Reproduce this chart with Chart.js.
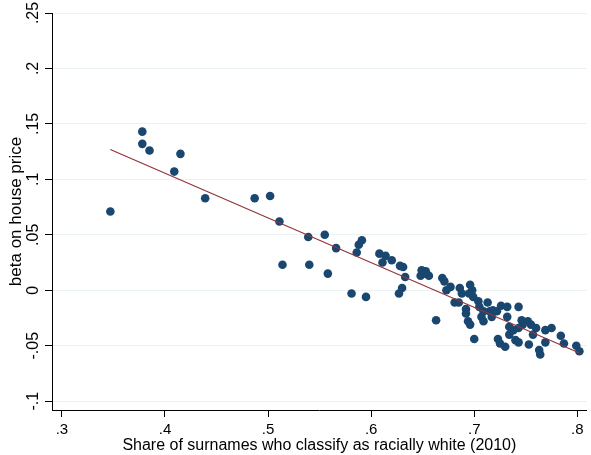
<!DOCTYPE html>
<html>
<head>
<meta charset="utf-8">
<script src="https://cdn.jsdelivr.net/npm/chart.js@4"></script>
<style>
  html, body { margin: 0; padding: 0; background: #fff; overflow: hidden; }
  #wrap { width: 591px; height: 455px; }
</style>
</head>
<body>
<div id="wrap"><canvas id="scatter-chart" width="591" height="455"></canvas></div>
<script>
const scatterCanvas = document.querySelector("#scatter-chart");

// DATA ------------------------------------------------

// share of surnames classified as racially white (2010)
const shareWhite = [
  0.347, 0.378, 0.378, 0.385, 0.415, 0.409, 0.439, 0.487, 0.502, 0.511,
  0.514, 0.539, 0.540, 0.555, 0.558, 0.566, 0.581, 0.595, 0.586, 0.588,
  0.591, 0.608, 0.614, 0.611, 0.620, 0.628, 0.631, 0.633, 0.630, 0.627,
  0.649, 0.653, 0.656, 0.648, 0.651, 0.663, 0.669, 0.671, 0.673, 0.677,
  0.681, 0.685, 0.686, 0.688, 0.696, 0.698, 0.695, 0.699, 0.692, 0.692,
  0.694, 0.696, 0.700, 0.704, 0.705, 0.707, 0.709, 0.713, 0.715, 0.717,
  0.722, 0.726, 0.732, 0.732, 0.734, 0.723, 0.725, 0.730, 0.734, 0.740,
  0.743, 0.746, 0.747, 0.743, 0.752, 0.755, 0.760, 0.757, 0.753, 0.763,
  0.764, 0.769, 0.775, 0.769, 0.784, 0.787, 0.799, 0.802, 0.738, 0.743,
  0.709, 0.718,
];

// beta on house price
const betaHouse = [
  0.071, 0.143, 0.132, 0.126, 0.123, 0.107, 0.083, 0.083, 0.085, 0.062,
  0.023, 0.048, 0.023, 0.050, 0.015, 0.038, -0.003, -0.006, 0.034, 0.041,
  0.045, 0.033, 0.031, 0.025, 0.027, 0.022, 0.021, 0.012, 0.002, -0.003,
  0.018, 0.017, 0.013, 0.013, 0.015, -0.027, 0.011, 0.008, 0.000, 0.003,
  -0.011, -0.011, 0.002, -0.003, 0.005, 0.000, -0.003, -0.006, -0.017, -0.021,
  -0.028, -0.031, -0.044, -0.010, -0.015, -0.024, -0.028, -0.011, -0.019, -0.024,
  -0.019, -0.014, -0.015, -0.024, -0.033, -0.044, -0.048, -0.051, -0.040, -0.045,
  -0.015, -0.027, -0.031, -0.034, -0.028, -0.031, -0.034, -0.040, -0.049, -0.054,
  -0.058, -0.036, -0.034, -0.047, -0.041, -0.048, -0.050, -0.055, -0.036, -0.047,
  -0.019, -0.018,
];

const xTicks = [0.3, 0.4, 0.5, 0.6, 0.7, 0.8];
const yTicks = [-0.1, -0.05, 0, 0.05, 0.1, 0.15, 0.2, 0.25];

// LINEAR FIT ------------------------------------------

let n = shareWhite.length;
let mx = shareWhite.reduce((a, b) => a + b, 0) / n;
let my = betaHouse.reduce((a, b) => a + b, 0) / n;
let sxy = 0;
let sxx = 0;
for (let i = 0; i < n; i++) {
  sxy += (shareWhite[i] - mx) * (betaHouse[i] - my);
  sxx += (shareWhite[i] - mx) * (shareWhite[i] - mx);
}
let slope = sxy / sxx;
let intercept = my - slope * mx;
let xMin = Math.min(...shareWhite);
let xMax = Math.max(...shareWhite);

// CHART -----------------------------------------------

// ".3", "-.05", "0" the way stata prints them
function stataLabel(v) {
  let s = String(Number(v.toFixed(2)));
  return s.replace(/^(-?)0\./, "$1.");
}

let scatterData = {
  datasets: [
    {
      type: "scatter",
      data: shareWhite.map((x, i) => ({ x: x, y: betaHouse[i] })),
      backgroundColor: "#1a476f",
      borderWidth: 0,
      pointRadius: 4.3,
      order: 2,
    },
    {
      type: "line",
      data: [
        { x: xMin, y: intercept + slope * xMin },
        { x: xMax, y: intercept + slope * xMax },
      ],
      borderColor: "#90353b",
      borderWidth: 1.2,
      pointRadius: 0,
      fill: false,
      order: 1,
    },
  ],
};

let scatterOptions = {
  responsive: false,
  animation: false,
  layout: {
    padding: { top: 13, right: 0, left: 0, bottom: 0 },
  },
  scales: {
    x: {
      type: "linear",
      min: 0.2904,
      max: 0.8091,
      afterBuildTicks: (scale) => {
        scale.ticks = xTicks.map((v) => ({ value: v }));
      },
      afterFit: (scale) => {
        scale.height = 45;
        scale.paddingLeft = 0;
        scale.paddingRight = 0;
      },
      border: { color: "#000", width: 1 },
      grid: {
        drawOnChartArea: false,
        tickLength: 7,
        tickColor: "#000",
      },
      ticks: {
        color: "#000",
        padding: 4,
        maxRotation: 0,
        font: { family: "Liberation Sans", size: 15 },
        callback: (v) => stataLabel(v),
      },
      title: {
        display: true,
        text: "Share of surnames who classify as racially white (2010)",
        color: "#000",
        padding: { top: 0, bottom: 0 },
        font: { family: "Liberation Sans", size: 16 },
      },
    },
    y: {
      type: "linear",
      min: -0.108,
      max: 0.25,
      afterBuildTicks: (scale) => {
        scale.ticks = yTicks.map((v) => ({ value: v }));
      },
      afterFit: (scale) => {
        scale.width = 52;
        scale.paddingTop = 0;
        scale.paddingBottom = 0;
      },
      border: { color: "#000", width: 1 },
      grid: {
        color: "#eaf2f3",
        lineWidth: 1,
        tickLength: 7,
        tickColor: "#000",
      },
      ticks: {
        color: "#000",
        padding: -2,
        minRotation: 90,
        maxRotation: 90,
        crossAlign: "center",
        font: { family: "Liberation Sans", size: 16 },
        callback: (v) => stataLabel(v),
      },
      title: {
        display: true,
        text: "beta on house price",
        color: "#000",
        padding: { top: 6, bottom: 0 },
        font: { family: "Liberation Sans", size: 17 },
      },
    },
  },
  plugins: {
    legend: { display: false },
    tooltip: { enabled: false },
  },
};

let scatterChart = new Chart(scatterCanvas, {
  data: scatterData,
  options: scatterOptions,
});
</script>
</body>
</html>
